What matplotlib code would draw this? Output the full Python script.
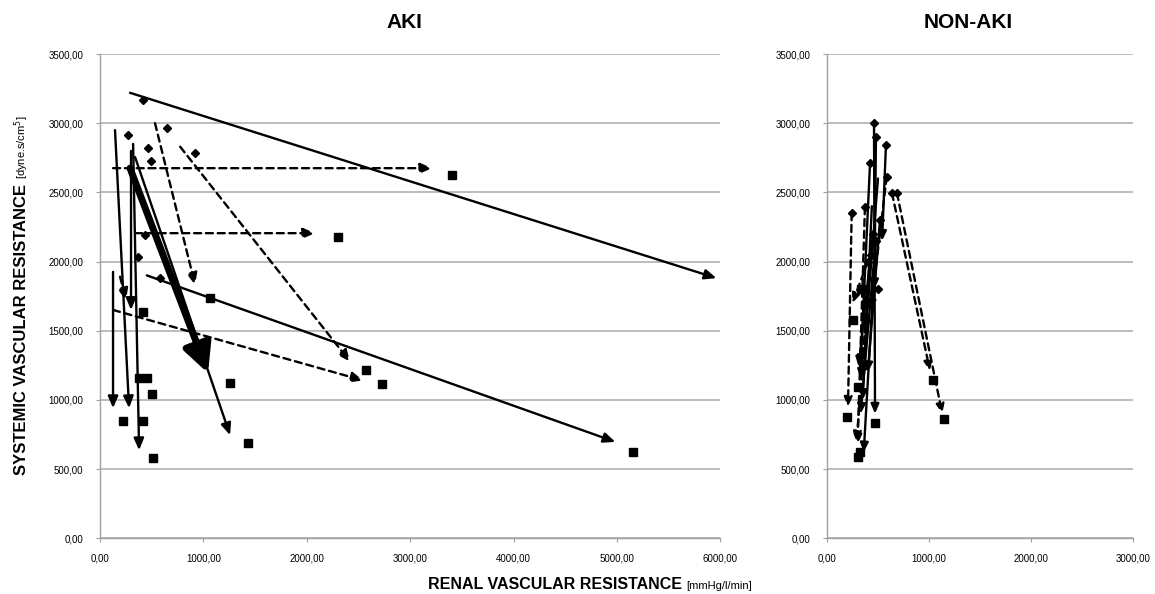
import matplotlib
matplotlib.use('Agg')
import matplotlib.pyplot as plt
from matplotlib.ticker import FuncFormatter, MultipleLocator

plt.rcParams['font.family'] = ['Liberation Sans', 'DejaVu Sans']

# AKI: arrows as (start x, start y, end x, end y)
aki_solid = [
    (290, 3220, 5963, 1880),
    (452, 1900, 4985, 696),
    (339, 2755, 1258, 745),
    (145, 2950, 281, 940),
    (126, 1925, 126, 940),
    (320, 2850, 378, 636),
    (300, 2800, 300, 1650),
]
aki_thick = [(290, 2675, 1045, 1193)]
aki_dashed = [
    (126, 2675, 3214, 2675),
    (339, 2205, 2081, 2205),
    (532, 3000, 920, 1830),
    (775, 2830, 2420, 1275),
    (126, 1650, 2546, 1140),
    (194, 1890, 252, 1720),
]
aki_pre_x = [416, 271, 648, 465, 494, 920, 436, 368, 580]
aki_pre_y = [3167, 2913, 2965, 2820, 2727, 2785, 2190, 2032, 1880]
aki_post_x = [226, 416, 416, 380, 450, 503, 513, 1065, 1258, 1433, 2304, 3404, 2575, 2727, 5160]
aki_post_y = [846, 846, 1634, 1157, 1157, 1041, 578, 1735, 1120, 687, 2177, 2625, 1215, 1118, 624]

# NON-AKI
non_solid = [
    (461, 3003, 471, 900),
    (480, 2900, 465, 1800),
    (578, 2842, 540, 2150),
    (422, 2710, 330, 1250),
    (450, 2200, 310, 1240),
    (520, 2300, 400, 1200),
    (480, 2150, 360, 620),
    (440, 2400, 350, 1000),
    (500, 2600, 380, 1500),
    (460, 2000, 330, 900),
]
non_dashed = [
    (372, 2393, 300, 680),
    (242, 2350, 206, 950),
    (686, 2495, 1130, 900),
    (637, 2495, 1010, 1210),
    (585, 2612, 430, 1650),
    (430, 2050, 290, 700),
    (400, 2000, 250, 1700),
    (410, 1800, 330, 1150),
]
non_pre_x = [461, 480, 578, 422, 585, 637, 686, 372, 242, 450, 520, 430, 400, 480, 500]
non_pre_y = [3003, 2900, 2842, 2710, 2612, 2495, 2495, 2393, 2350, 2200, 2300, 2050, 2000, 2150, 1800]
non_post_x = [471, 304, 320, 196, 1150, 1040, 255, 304, 360, 400, 330]
non_post_y = [832, 585, 620, 875, 860, 1140, 1575, 1090, 1250, 1700, 1800]

y_ticks_max = 3500


def fmt(v, p):
    return f'{v:.2f}'.replace('.', ',')


def arrows(ax, segs, ls='-', lw=1.6, head='-|>,head_length=0.7,head_width=0.3', ms=10):
    for x0, y0, x1, y1 in segs:
        ax.annotate('', xy=(x1, y1), xytext=(x0, y0),
                    arrowprops=dict(arrowstyle=head, color='black', lw=lw, ls=ls,
                                    shrinkA=0, shrinkB=0, mutation_scale=ms))


def setup(ax, xmax, title, tx):
    ax.set_xlim(0, xmax)
    ax.set_ylim(0, y_ticks_max)
    ax.xaxis.set_major_locator(MultipleLocator(1000))
    ax.yaxis.set_major_locator(MultipleLocator(500))
    ax.xaxis.set_major_formatter(FuncFormatter(fmt))
    ax.yaxis.set_major_formatter(FuncFormatter(fmt))
    ax.yaxis.grid(True, color='#bcbcbc', lw=1.4)
    ax.set_axisbelow(True)
    for s in ['top', 'right']:
        ax.spines[s].set_visible(False)
    for s in ['left', 'bottom']:
        ax.spines[s].set_color('#a0a0a0')
        ax.spines[s].set_linewidth(1.0)
    ax.tick_params(axis='y', direction='out', length=3, color='#a0a0a0', labelsize=7, pad=9)
    ax.tick_params(axis='x', direction='out', length=3, color='#a0a0a0', labelsize=7, pad=8)
    ax.set_title(title, fontsize=15, fontweight='bold', pad=19, x=tx)


fig = plt.figure(figsize=(11.55, 5.94), dpi=100)
ax1 = fig.add_axes([0.0866, 0.094, 0.537, 0.815])
ax2 = fig.add_axes([0.716, 0.094, 0.265, 0.815])
setup(ax1, 6000, 'AKI', 0.49)
setup(ax2, 3000, 'NON-AKI', 0.46)

dash = (0, (3, 2))
arrows(ax1, aki_solid, lw=1.7)
arrows(ax1, aki_dashed, ls=dash, lw=1.7)
arrows(ax1, aki_thick, lw=5, head='-|>,head_length=1.2,head_width=0.6', ms=14)
ax1.plot(aki_pre_x, aki_pre_y, 'D', color='black', ms=4, ls='none')
ax1.plot(aki_post_x, aki_post_y, 's', color='black', ms=6, ls='none')

arrows(ax2, non_solid, lw=1.7, ms=8)
arrows(ax2, non_dashed, ls=dash, lw=1.7, ms=8)
ax2.plot(non_pre_x, non_pre_y, 'D', color='black', ms=4, ls='none')
ax2.plot(non_post_x, non_post_y, 's', color='black', ms=6, ls='none')

fig.text(0.5905, 0.008, 'RENAL VASCULAR RESISTANCE', ha='right', va='baseline',
         fontsize=11.5, fontweight='bold')
fig.text(0.5945, 0.008, '[mmHg/l/min]', ha='left', va='baseline', fontsize=8)
fig.text(0.0225, 0.446, 'SYSTEMIC VASCULAR RESISTANCE', rotation=90, rotation_mode='anchor',
         ha='center', va='baseline', fontsize=12, fontweight='bold')
fig.text(0.0225, 0.752, '[dyne.s/cm$^5$]', rotation=90, rotation_mode='anchor',
         ha='center', va='baseline', fontsize=8)

fig.savefig('out.png', dpi=100)
